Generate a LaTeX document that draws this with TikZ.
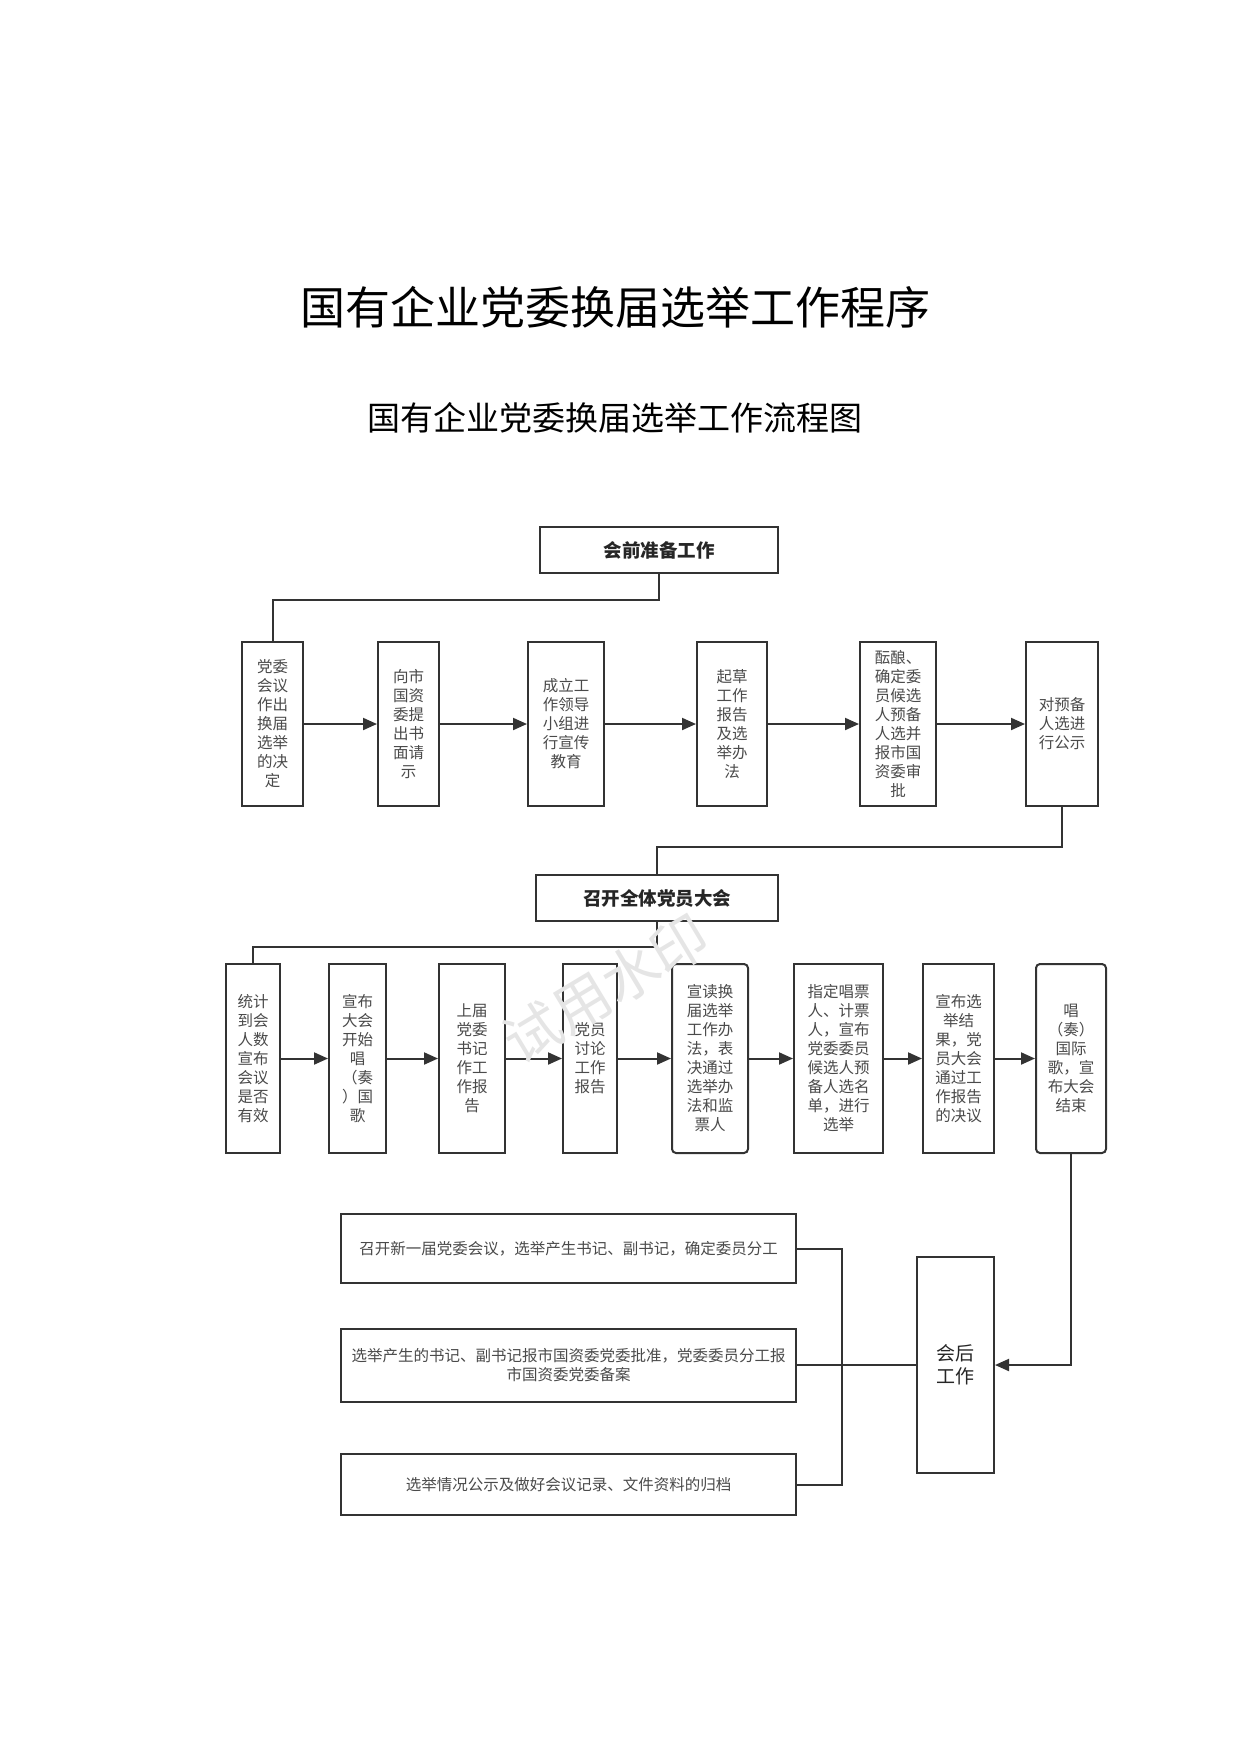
\documentclass[tikz,border=0pt]{standalone}
\usepackage{fontspec}
\setmainfont{Noto Sans CJK SC}
\usetikzlibrary{arrows.meta}
\definecolor{linec}{HTML}{333333}
\definecolor{txtc}{HTML}{4A4A4A}
\begin{document}
\begin{tikzpicture}[x=1pt,y=-1pt,
  box/.style={draw=linec,line width=2pt,fill=white,inner sep=0pt,align=center,
    text=txtc,font=\fontsize{15.5}{19}\selectfont},
  rbox/.style={box,rounded corners=4pt},
  headbox/.style={draw=linec,line width=2pt,inner sep=0pt,align=center,
    text=black!85,font=\fontsize{18.5}{22}\selectfont\bfseries},
  wide/.style={box,minimum width=455pt},
  conn/.style={draw=linec,line width=2pt},
  arr/.style={conn,-{Triangle[length=14pt,width=12pt]}}]
\useasboundingbox (0,0) rectangle (1240,1754);

% titles
\node[font=\fontsize{45}{50}\selectfont] (title) at (615,307) {国有企业党委换届选举工作程序};
\node[font=\fontsize{33}{38}\selectfont] (subtitle) at (615,418) {国有企业党委换届选举工作流程图};

% header 1
\node[headbox,minimum width=238pt,minimum height=46pt] (h1) at (659,550) {会前准备工作};

% row 1
\node[box,minimum width=61pt,minimum height=164pt] (b1) at (272.5,724) {党委\\会议\\作出\\换届\\选举\\的决\\定};
\node[box,minimum width=61pt,minimum height=164pt] (b2) at (408.5,724) {向市\\国资\\委提\\出书\\面请\\示};
\node[box,minimum width=76pt,minimum height=164pt] (b3) at (566,724) {成立工\\作领导\\小组进\\行宣传\\教育};
\node[box,minimum width=70pt,minimum height=164pt] (b4) at (732,724) {起草\\工作\\报告\\及选\\举办\\法};
\node[box,minimum width=76pt,minimum height=164pt] (b5) at (898,724) {酝酿、\\确定委\\员候选\\人预备\\人选并\\报市国\\资委审\\批};
\node[box,minimum width=72pt,minimum height=164pt] (b6) at (1062,724) {对预备\\人选进\\行公示};

\draw[conn] (h1.south) -- ++(0,26) -| (b1.north);
\draw[arr] (b1) -- (b2);
\draw[arr] (b2) -- (b3);
\draw[arr] (b3) -- (b4);
\draw[arr] (b4) -- (b5);
\draw[arr] (b5) -- (b6);

% header 2
\node[headbox,minimum width=242pt,minimum height=46pt] (h2) at (657,898) {召开全体党员大会};
\draw[conn] (b6.south) -- ++(0,40) -| (h2.north);

% row 2
\node[box,minimum width=54pt,minimum height=189pt] (r1) at (253,1058.5) {统计\\到会\\人数\\宣布\\会议\\是否\\有效};
\node[box,minimum width=57pt,minimum height=189pt] (r2) at (357.5,1058.5) {宣布\\大会\\开始\\唱\\（奏\\）国\\歌};
\node[box,minimum width=66pt,minimum height=189pt] (r3) at (472,1058.5) {上届\\党委\\书记\\作工\\作报\\告};
\node[box,minimum width=54pt,minimum height=189pt] (r4) at (590,1058.5) {党员\\讨论\\工作\\报告};
\node[rbox,minimum width=76pt,minimum height=189pt] (r5) at (710,1058.5) {宣读换\\届选举\\工作办\\法，表\\决通过\\选举办\\法和监\\票人};
\node[box,minimum width=89pt,minimum height=189pt] (r6) at (838.5,1058.5) {指定唱票\\人、计票\\人，宣布\\党委委员\\候选人预\\备人选名\\单，进行\\选举};
\node[box,minimum width=71pt,minimum height=189pt] (r7) at (958.5,1058.5) {宣布选\\举结\\果，党\\员大会\\通过工\\作报告\\的决议};
\node[rbox,minimum width=70pt,minimum height=189pt] (r8) at (1071,1058.5) {唱\\（奏）\\国际\\歌，宣\\布大会\\结束};

\draw[conn] (h2.south) -- ++(0,25) -| (r1.north);
\draw[arr] (r1) -- (r2);
\draw[arr] (r2) -- (r3);
\draw[arr] (r3) -- (r4);
\draw[arr] (r4) -- (r5);
\draw[arr] (r5) -- (r6);
\draw[arr] (r6) -- (r7);
\draw[arr] (r7) -- (r8);

% after-meeting
\node[box,minimum width=77pt,minimum height=216pt,text=black!85,font=\fontsize{19}{23}\selectfont] (after) at (955.5,1365) {会后\\工作};
\node[wide,minimum height=69pt] (pa) at (568.5,1248.5) {召开新一届党委会议，选举产生书记、副书记，确定委员分工};
\node[wide,minimum height=73pt] (pb) at (568.5,1365) {选举产生的书记、副书记报市国资委党委批准，党委委员分工报\\市国资委党委备案};
\node[wide,minimum height=61pt] (pc) at (568.5,1484.5) {选举情况公示及做好会议记录、文件资料的归档};

\coordinate (bus) at (842,0);
\draw[conn] (pa.east) -- (pa.east -| bus) -- (pc.east -| bus) -- (pc.east);
\draw[conn] (pb.east) -- (after.west);
\draw[arr] (r8.south) |- (after.east);

% watermark (drawn on top, very light)
\node[text=black!10,rotate=31,font=\fontsize{57}{60}\selectfont] (wm) at (606,988) {试用水印};
\end{tikzpicture}
\end{document}
